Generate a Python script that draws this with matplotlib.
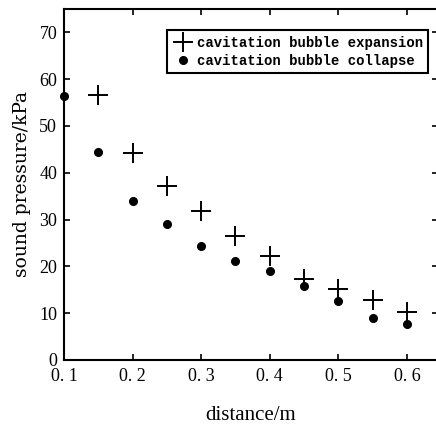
import matplotlib.pyplot as plt

distance = [0.1, 0.15, 0.2, 0.25, 0.3, 0.35, 0.4, 0.45, 0.5, 0.55, 0.6]
expansion_x = distance[1:]
expansion = [56.6, 44.2, 37.2, 31.8, 26.5, 22.2, 17.3, 15.2, 12.8, 10.3]
collapse = [56.4, 44.4, 34.0, 29.0, 24.4, 21.2, 19.0, 15.8, 12.6, 9.0, 7.7]
xticks = [0.1, 0.2, 0.3, 0.4, 0.5, 0.6]
xticklabels = ["0. 1", "0. 2", "0. 3", "0. 4", "0. 5", "0. 6"]
yticks = [0, 10, 20, 30, 40, 50, 60, 70]

plt.rcParams['font.family'] = ['Liberation Serif', 'DejaVu Serif']

fig = plt.figure(figsize=(4.36, 4.29), dpi=100)
ax = fig.add_axes([0.147, 0.161, 0.857, 0.818])

ax.plot(expansion_x, expansion, linestyle='none', marker='+', ms=15, mew=1.4,
        color='black', label='cavitation bubble expansion')
ax.plot(distance, collapse, linestyle='none', marker='o', ms=5.5,
        color='black', label='cavitation bubble collapse', clip_on=False)

ax.set_xlim(0.1, 0.645)
ax.set_ylim(0, 75)
ax.set_xticks(xticks)
ax.set_xticklabels(xticklabels)
ax.set_yticks(yticks)
ax.tick_params(direction='in', top=True, right=True, length=4, width=1.2,
               labelsize=13)
ax.tick_params(axis='x', pad=6)
ax.tick_params(axis='y', pad=5)
for s in ax.spines.values():
    s.set_linewidth(1.5)

ax.set_ylabel('sound pressure/kPa', fontsize=13.5, family='DejaVu Serif', labelpad=6)
ax.set_xlabel('distance/m', fontsize=15, labelpad=15)

leg = ax.legend(loc='upper right', bbox_to_anchor=(0.975, 0.94), frameon=True,
                fancybox=False, edgecolor='black', framealpha=1,
                prop={'family': 'Liberation Mono', 'weight': 'bold', 'size': 10},
                handlelength=1.5, handletextpad=0.25, borderpad=0.4,
                labelspacing=0.3, borderaxespad=0)
leg.get_frame().set_linewidth(1.5)

fig.savefig('out.png', dpi=100)
